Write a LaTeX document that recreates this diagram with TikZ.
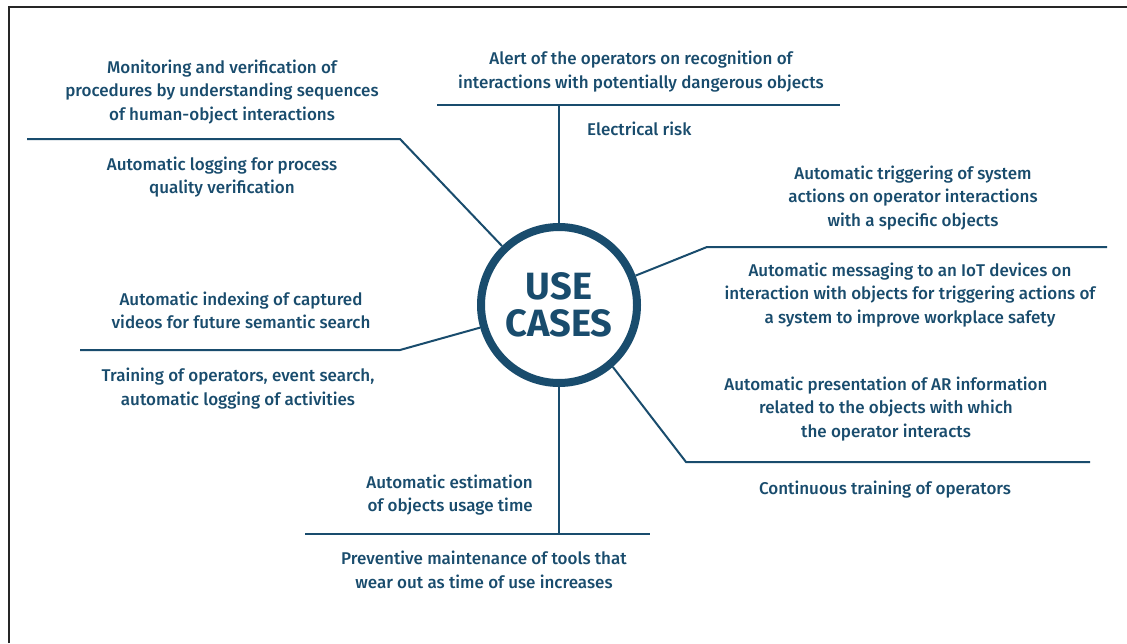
\documentclass[tikz,border=0pt]{standalone}
\usepackage{fontspec}
\setmainfont{Fira Sans}[UprightFont={* Medium},BoldFont={* Bold}]
\definecolor{ucblue}{HTML}{194C6D}

\tikzset{
	uctext/.style={text=ucblue, align=center, inner sep=0pt, font=\fontsize{17}{23.5}\selectfont},
	ucline/.style={draw=ucblue, line width=2pt},
}

\begin{document}
\begin{tikzpicture}[x=1pt, y=-1pt]
	\useasboundingbox (0,0) rectangle (1127,643);
	\fill[white] (0,0) rectangle (1127,643);
	\draw[line width=2.5pt, black!85] (9,643) -- (9,7) -- (1127,7);

	\node[circle, draw=ucblue, line width=8pt, minimum size=156pt, inner sep=0pt, text=ucblue,
		align=center, font=\fontsize{38}{37}\selectfont\bfseries] (uc) at (559,305) {USE\\CASES};

	\coordinate (top) at (559,105);
	\coordinate (ul) at (400,139);
	\coordinate (ur) at (707,247);
	\coordinate (le) at (400,350);
	\coordinate (lr) at (686,462);
	\coordinate (bot) at (559,534);

	\draw[ucline] (437,105) -- (840,105);
	\draw[ucline] (uc.90) -- (top);
	\draw[ucline] (27,139) -- (ul) -- (uc.134.5);
	\draw[ucline] (uc.21) -- (ur) -- (1107,247);
	\draw[ucline] (80,350) -- (le) -- (uc.196);
	\draw[ucline] (uc.-49) -- (lr) -- (1090,462);
	\draw[ucline] (uc.270) -- (bot);
	\draw[ucline] (305,534) -- (650,534);

	\node[uctext] (alert) at (641,71.5) {Alert of the operators on recognition of\\interactions with potentially dangerous objects};
	\node[uctext, anchor=west] (elec) at (587,129) {Electrical risk};
	\node[uctext] (monitor) at (222,92) {Monitoring and verification of\\procedures by understanding sequences\\of human-object interactions};
	\node[uctext] (logging) at (222,177) {Automatic logging for process\\quality verification};
	\node[uctext] (trigger) at (913,198) {Automatic triggering of system\\actions on operator interactions\\with a specific objects};
	\node[uctext] (iot) at (910,295) {Automatic messaging to an IoT devices on\\interaction with objects for triggering actions of\\a system to improve workplace safety};
	\node[uctext] (index) at (241,310.5) {Automatic indexing of captured\\videos for future semantic search};
	\node[uctext] (train) at (238,388.5) {Training of operators, event search,\\automatic logging of activities};
	\node[uctext, align=right, anchor=east] (usage) at (533,495) {Automatic estimation\\of objects usage time};
	\node[uctext] (maint) at (484,570) {Preventive maintenance of tools that\\wear out as time of use increases};
	\node[uctext] (ar) at (886,409) {Automatic presentation of AR information\\related to the objects with which\\the operator interacts};
	\node[uctext] (contin) at (885,490) {Continuous training of operators};
\end{tikzpicture}
\end{document}
